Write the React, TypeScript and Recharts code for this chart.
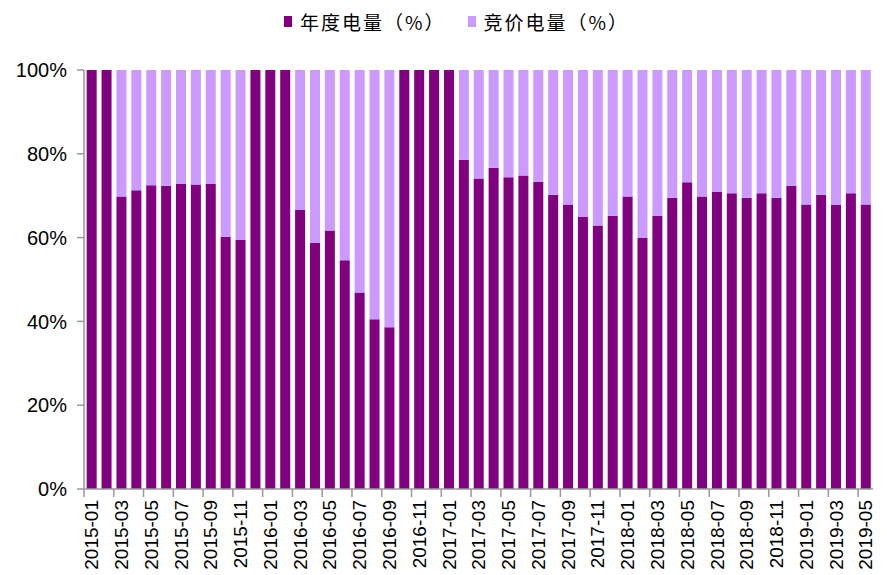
import { BarChart, Bar, XAxis, YAxis, Legend } from "recharts";

const months = [
  "2015-01", "2015-02", "2015-03", "2015-04", "2015-05", "2015-06", "2015-07", "2015-08", "2015-09", "2015-10", "2015-11", "2015-12",
  "2016-01", "2016-02", "2016-03", "2016-04", "2016-05", "2016-06", "2016-07", "2016-08", "2016-09", "2016-10", "2016-11", "2016-12",
  "2017-01", "2017-02", "2017-03", "2017-04", "2017-05", "2017-06", "2017-07", "2017-08", "2017-09", "2017-10", "2017-11", "2017-12",
  "2018-01", "2018-02", "2018-03", "2018-04", "2018-05", "2018-06", "2018-07", "2018-08", "2018-09", "2018-10", "2018-11", "2018-12",
  "2019-01", "2019-02", "2019-03", "2019-04", "2019-05",
];

// 年度电量 share (%)
const annual = [
  100, 100, 69.8, 71.3, 72.5, 72.4, 72.8, 72.7, 72.8, 60.2, 59.4, 100,
  100, 100, 66.6, 58.8, 61.7, 54.6, 46.9, 40.5, 38.6, 100, 100, 100,
  100, 78.6, 74.1, 76.7, 74.4, 74.8, 73.3, 70.2, 67.9, 64.9, 62.9, 65.2,
  69.8, 59.9, 65.2, 69.5, 73.2, 69.8, 70.9, 70.6, 69.5, 70.6, 69.5, 72.4,
  67.9, 70.2, 67.8, 70.6, 67.9,
];

// 竞价电量 share (%)
const bidding = [
  0, 0, 30.2, 28.7, 27.5, 27.6, 27.2, 27.3, 27.2, 39.8, 40.6, 0,
  0, 0, 33.4, 41.2, 38.3, 45.4, 53.1, 59.5, 61.4, 0, 0, 0,
  0, 21.4, 25.9, 23.3, 25.6, 25.2, 26.7, 29.8, 32.1, 35.1, 37.1, 34.8,
  30.2, 40.1, 34.8, 30.5, 26.8, 30.2, 29.1, 29.4, 30.5, 29.4, 30.5, 27.6,
  32.1, 29.8, 32.2, 29.4, 32.1,
];

const yTicks = [0, 20, 40, 60, 80, 100];

const seriesNames = ["年度电量（%）", "竞价电量（%）"];
const DARK = "#800080";
const LIGHT = "#CC99FF";

const data = months.map((m, i) => ({ month: m, annual: annual[i], bidding: bidding[i] }));

const W = 887;
const H = 575;
const margin = { top: 0, right: 14, left: 0, bottom: 0 };
const yAxisWidth = 84;
const xAxisHeight = 86;
const step = (W - margin.left - margin.right - yAxisWidth) / months.length;

const XTick = (props: any) => {
  const { x, y, payload } = props;
  return (
    <g>
      <line x1={x - step / 2} x2={x - step / 2} y1={y - 11} y2={y - 3} stroke="#999" strokeWidth={1.5} />
      <g transform={`translate(${x},${y})`}>
        <text
          x={0}
          y={0}
          dy="0.36em"
          textAnchor="end"
          transform="rotate(-90)"
          fontSize={19}
          fontFamily="'Liberation Sans', Arial, sans-serif"
          fill="#000"
        >
          {payload.value}
        </text>
      </g>
    </g>
  );
};

const LegendBox = () => (
  <div
    style={{
      height: 70,
      display: "flex",
      justifyContent: "center",
      paddingLeft: 40,
      paddingTop: 8,
      boxSizing: "border-box",
      fontFamily: "'Noto Sans CJK SC', sans-serif",
      fontSize: 19,
      letterSpacing: 2,
      color: "#000",
    }}
  >
    {seriesNames.map((name, i) => (
      <div key={name} style={{ display: "flex", alignItems: "center", height: 26, marginRight: i === 0 ? 22 : 0 }}>
        <span style={{ width: 8, height: 11, background: i === 0 ? DARK : LIGHT, marginRight: 8 }} />
        <span>{name}</span>
      </div>
    ))}
  </div>
);

export default function App() {
  return (
    <div style={{ position: "absolute", left: 0, top: 0 }}>
      <BarChart width={W} height={H} data={data} margin={margin} barCategoryGap="18%">
        <Legend verticalAlign="top" align="center" content={<LegendBox />} />
        <XAxis
          dataKey="month"
          interval={1}
          height={xAxisHeight}
          tickLine={false}
          tickSize={8}
          tickMargin={3}
          tick={<XTick />}
          axisLine={{ stroke: "#999", strokeWidth: 1.5 }}
        />
        <YAxis
          width={yAxisWidth}
          domain={[0, 100]}
          ticks={yTicks}
          tickFormatter={(v: number) => `${v}%`}
          tickSize={7}
          tickMargin={10}
          axisLine={{ stroke: "#999", strokeWidth: 1.5 }}
          tickLine={{ stroke: "#999", strokeWidth: 1.5 }}
          tick={{ fontSize: 20, fill: "#000", fontFamily: "'Liberation Sans', Arial, sans-serif" }}
        />
        <Bar dataKey="annual" name={seriesNames[0]} stackId="a" fill={DARK} isAnimationActive={false} />
        <Bar dataKey="bidding" name={seriesNames[1]} stackId="a" fill={LIGHT} isAnimationActive={false} />
      </BarChart>
    </div>
  );
}
